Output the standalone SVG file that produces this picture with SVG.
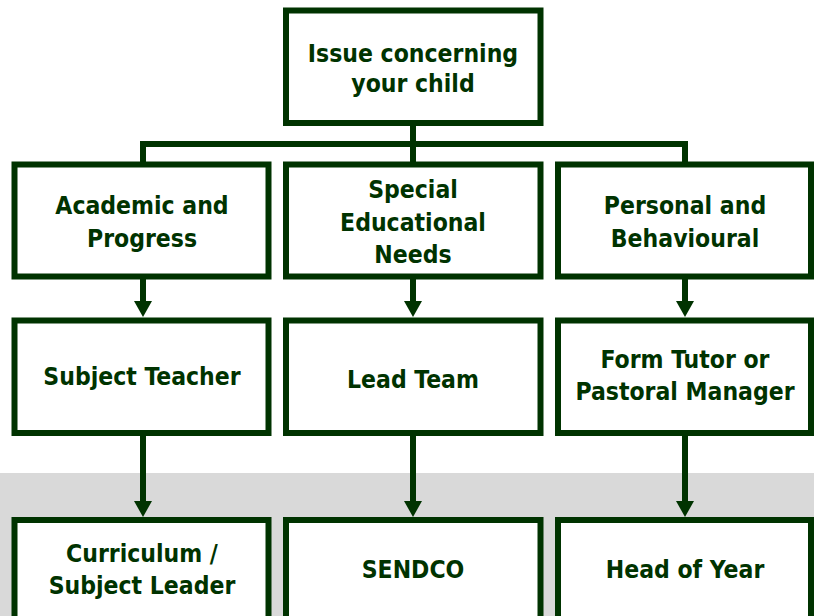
<svg xmlns="http://www.w3.org/2000/svg" width="814" height="616" viewBox="0 0 814 616">
  <style>
    .box { fill: #ffffff; stroke: #003300; stroke-width: 6; }
    .lbl { font-family: "DejaVu Sans Condensed", "DejaVu Sans", sans-serif; font-stretch: condensed; font-weight: bold; font-size: 24.5px; fill: #003300; text-anchor: middle; }
    .conn { fill: none; stroke: #003300; stroke-width: 6; stroke-linejoin: miter; stroke-linecap: butt; }
    .head { fill: #003300; }
  </style>
  <rect x="0" y="0" width="814" height="616" fill="#ffffff"/>
  <rect x="0" y="473" width="814" height="143" fill="#d9d9d9"/>

  <g id="connectors">
    <path class="conn" d="M413,123 V165"/>
    <path class="conn" d="M143,165 V144 H685 V165"/>
    <path class="conn" d="M143,276 V303"/>
    <polygon class="head" points="134,301 152,301 143,317"/>
    <path class="conn" d="M413,276 V303"/>
    <polygon class="head" points="404,301 422,301 413,317"/>
    <path class="conn" d="M685,276 V303"/>
    <polygon class="head" points="676,301 694,301 685,317"/>
    <path class="conn" d="M143,433 V503"/>
    <polygon class="head" points="134,501 152,501 143,517"/>
    <path class="conn" d="M413,433 V503"/>
    <polygon class="head" points="404,501 422,501 413,517"/>
    <path class="conn" d="M685,433 V503"/>
    <polygon class="head" points="676,501 694,501 685,517"/>
  </g>

  <g id="issue">
    <rect class="box" x="286" y="10.5" width="254.5" height="112.5"/>
    <text class="lbl" x="413" y="62">Issue concerning</text>
    <text class="lbl" x="413" y="92">your child</text>
  </g>

  <g id="academic">
    <rect class="box" x="14.5" y="164.5" width="254" height="112"/>
    <text class="lbl" x="142" y="214">Academic and</text>
    <text class="lbl" x="142" y="246.5">Progress</text>
  </g>
  <g id="sen">
    <rect class="box" x="286" y="164.5" width="254.5" height="112"/>
    <text class="lbl" x="413" y="198">Special</text>
    <text class="lbl" x="413" y="230.5">Educational</text>
    <text class="lbl" x="413" y="262.5">Needs</text>
  </g>
  <g id="personal">
    <rect class="box" x="558" y="164.5" width="253" height="112"/>
    <text class="lbl" x="685" y="214">Personal and</text>
    <text class="lbl" x="685" y="246.5">Behavioural</text>
  </g>

  <g id="subject-teacher">
    <rect class="box" x="14.5" y="320.5" width="254" height="112.5"/>
    <text class="lbl" x="142" y="385">Subject Teacher</text>
  </g>
  <g id="lead-team">
    <rect class="box" x="286" y="320.5" width="254.5" height="112.5"/>
    <text class="lbl" x="413" y="387.5">Lead Team</text>
  </g>
  <g id="form-tutor">
    <rect class="box" x="558" y="320.5" width="253" height="112.5"/>
    <text class="lbl" x="685" y="367.5">Form Tutor or</text>
    <text class="lbl" x="685" y="400">Pastoral Manager</text>
  </g>

  <g id="curriculum-leader">
    <rect class="box" x="14.5" y="520" width="254" height="110"/>
    <text class="lbl" x="142" y="561.5">Curriculum /</text>
    <text class="lbl" x="142" y="594">Subject Leader</text>
  </g>
  <g id="sendco">
    <rect class="box" x="286" y="520" width="254.5" height="110"/>
    <text class="lbl" x="413" y="578">SENDCO</text>
  </g>
  <g id="head-of-year">
    <rect class="box" x="558" y="520" width="253" height="110"/>
    <text class="lbl" x="685" y="578">Head of Year</text>
  </g>
</svg>
